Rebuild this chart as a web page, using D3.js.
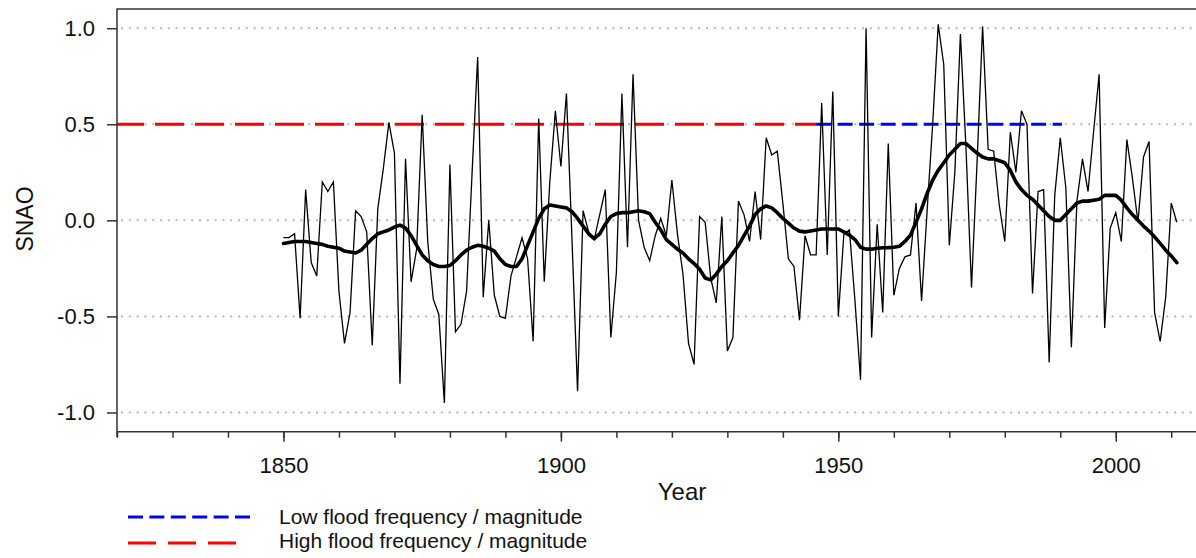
<!DOCTYPE html>
<html>
<head>
<meta charset="utf-8">
<script src="https://cdn.jsdelivr.net/npm/d3@7"></script>
<style>
  html, body { margin: 0; padding: 0; background: #fff; }
  svg { display: block; font-family: "Liberation Sans", Arial, sans-serif; }
</style>
</head>
<body>
<svg id="chart" width="1196" height="558"></svg>
<script>
// ---------------- data ----------------
const startYear = 1850;
const snaoAnnual = [
  -0.09, -0.09, -0.07, -0.51, 0.16, -0.22, -0.29, 0.20, 0.15, 0.20,
  -0.37, -0.64, -0.48, 0.05, 0.02, -0.06, -0.65, 0.06, 0.27, 0.51,
  0.35, -0.85, 0.32, -0.32, -0.15, 0.55, -0.11, -0.41, -0.49, -0.95,
  0.29, -0.58, -0.54, -0.37, 0.25, 0.85, -0.40, 0.00, -0.39, -0.50,
  -0.51, -0.29, -0.19, -0.09, -0.20, -0.63, 0.53, -0.32, 0.20, 0.57,
  0.28, 0.66, -0.10, -0.89, 0.05, -0.06, -0.10, 0.03, 0.16, -0.61,
  -0.27, 0.66, -0.14, 0.76, 0.00, -0.14, -0.21, -0.08, 0.01, -0.08,
  0.21, -0.07, -0.28, -0.64, -0.75, 0.02, -0.01, -0.30, -0.43, 0.02,
  -0.68, -0.61, 0.10, 0.03, -0.11, 0.15, -0.10, 0.43, 0.34, 0.36,
  0.09, -0.20, -0.24, -0.52, -0.08, -0.18, -0.18, 0.61, -0.18, 0.67,
  -0.50, -0.07, -0.05, -0.42, -0.83, 1.00, -0.61, -0.02, -0.48, 0.40,
  -0.39, -0.25, -0.19, -0.18, 0.09, -0.42, 0.05, 0.50, 1.02, 0.81,
  -0.13, 0.25, 0.97, 0.38, -0.35, 0.30, 1.01, 0.37, 0.36, 0.08,
  -0.11, 0.46, 0.25, 0.57, 0.50, -0.38, 0.15, 0.16, -0.74, 0.13,
  0.43, 0.17, -0.66, 0.10, 0.32, 0.15, 0.46, 0.76, -0.56, -0.04,
  0.04, -0.11, 0.42, 0.22, -0.01, 0.33, 0.41, -0.48, -0.63, -0.40,
  0.09, -0.01
];
const snaoSmooth = [
  -0.12, -0.115, -0.11, -0.11, -0.11, -0.115, -0.12, -0.125, -0.135, -0.14,
  -0.145, -0.16, -0.165, -0.17, -0.155, -0.125, -0.095, -0.07, -0.06, -0.05,
  -0.035, -0.025, -0.04, -0.08, -0.13, -0.18, -0.21, -0.23, -0.24, -0.24,
  -0.235, -0.21, -0.18, -0.155, -0.14, -0.13, -0.135, -0.145, -0.16, -0.20,
  -0.23, -0.24, -0.24, -0.20, -0.13, -0.06, 0.01, 0.06, 0.08, 0.075,
  0.07, 0.065, 0.045, 0.01, -0.03, -0.07, -0.095, -0.07, -0.02, 0.02,
  0.035, 0.04, 0.04, 0.045, 0.05, 0.045, 0.035, -0.01, -0.05, -0.10,
  -0.125, -0.15, -0.17, -0.20, -0.225, -0.255, -0.30, -0.31, -0.28, -0.24,
  -0.21, -0.17, -0.13, -0.08, -0.03, 0.03, 0.06, 0.075, 0.065, 0.04,
  0.01, -0.015, -0.04, -0.056, -0.06, -0.055, -0.05, -0.045, -0.045, -0.045,
  -0.045, -0.06, -0.077, -0.10, -0.14, -0.15, -0.15, -0.145, -0.143, -0.142,
  -0.14, -0.135, -0.11, -0.077, -0.01, 0.06, 0.14, 0.21, 0.26, 0.30,
  0.34, 0.37, 0.40, 0.40, 0.375, 0.35, 0.33, 0.32, 0.32, 0.31,
  0.30, 0.26, 0.20, 0.16, 0.13, 0.11, 0.08, 0.05, 0.02, 0.0,
  0.0, 0.03, 0.06, 0.09, 0.10, 0.10, 0.105, 0.11, 0.13, 0.13,
  0.13, 0.105, 0.065, 0.03, 0.0, -0.03, -0.056, -0.086, -0.12, -0.155,
  -0.185, -0.22
];
const years = d3.range(startYear, startYear + snaoAnnual.length);

// flood periods drawn at SNAO = 0.5
const highFloodPeriod = [1820, 1946];
const lowFloodPeriod = [1946, 1990.3];
const periodLevel = 0.5;

const yTickValues = [-1.0, -0.5, 0.0, 0.5, 1.0];
const xMajorTicks = [1850, 1900, 1950, 2000];
const xMinorTicks = d3.range(1820, 2011, 10);
const legendLabels = ["Low flood frequency / magnitude", "High flood frequency / magnitude"];

// ---------------- layout ----------------
const svg = d3.select("#chart");
const pL = 117, pR = 1199, pT = 9, pB = 431.7;
const x = d3.scaleLinear().domain([1820, 2015]).range([pL, pR]);
const y = d3.scaleLinear().domain([-1.1, 1.1]).range([pB, pT]);

// grid lines (dotted)
svg.append("g").selectAll("line").data(yTickValues).join("line")
  .attr("x1", pL + 4).attr("x2", pR)
  .attr("y1", d => y(d)).attr("y2", d => y(d))
  .attr("stroke", "#b8b8b8").attr("stroke-width", 2)
  .attr("stroke-dasharray", "2,5.8");

// flood period lines
svg.append("line")
  .attr("x1", x(highFloodPeriod[0])).attr("x2", x(highFloodPeriod[1]))
  .attr("y1", y(periodLevel)).attr("y2", y(periodLevel))
  .attr("stroke", "#ff0000").attr("stroke-width", 3)
  .attr("stroke-dasharray", "29,11").attr("stroke-dashoffset", 2);
svg.append("line")
  .attr("x1", x(lowFloodPeriod[0])).attr("x2", x(lowFloodPeriod[1]))
  .attr("y1", y(periodLevel)).attr("y2", y(periodLevel))
  .attr("stroke", "#0000ff").attr("stroke-width", 3)
  .attr("stroke-dasharray", "15,6.5");

// annual series
const line = d3.line().x((d, i) => x(years[i])).y(d => y(d));
svg.append("path").datum(snaoAnnual)
  .attr("d", line).attr("fill", "none")
  .attr("stroke", "#000").attr("stroke-width", 1.3)
  .attr("stroke-linejoin", "miter");

// smoothed series
svg.append("path").datum(snaoSmooth)
  .attr("d", line).attr("fill", "none")
  .attr("stroke", "#000").attr("stroke-width", 3.6)
  .attr("stroke-linejoin", "round").attr("stroke-linecap", "round");

// frame
svg.append("path")
  .attr("d", `M${pL},437 L${pL},${pT} L${pR},${pT}`)
  .attr("fill", "none").attr("stroke", "#333").attr("stroke-width", 1.5);
svg.append("line")
  .attr("x1", pL).attr("x2", pR).attr("y1", pB).attr("y2", pB)
  .attr("stroke", "#333").attr("stroke-width", 1.5);

// y axis
const yAxis = svg.append("g").attr("transform", `translate(${pL},0)`)
  .call(d3.axisLeft(y).tickValues(yTickValues).tickSize(10).tickPadding(12)
    .tickFormat(d => d3.format(".1f")(d).replace("\u2212", "-")));
yAxis.select(".domain").remove();
yAxis.selectAll("line").attr("stroke", "#333").attr("stroke-width", 1.5);
yAxis.selectAll("text").attr("font-size", 22).attr("fill", "#111")
  .attr("font-family", "Liberation Sans, Arial, sans-serif");

// x axis minor
const xMinor = svg.append("g").attr("transform", `translate(0,${pB})`)
  .call(d3.axisBottom(x).tickValues(xMinorTicks).tickSize(6).tickFormat(""));
xMinor.select(".domain").remove();
xMinor.selectAll("line").attr("stroke", "#333").attr("stroke-width", 1.5);

// x axis major
const xMajor = svg.append("g").attr("transform", `translate(0,${pB})`)
  .call(d3.axisBottom(x).tickValues(xMajorTicks).tickSize(10).tickPadding(16)
    .tickFormat(d3.format("d")));
xMajor.select(".domain").remove();
xMajor.selectAll("line").attr("stroke", "#333").attr("stroke-width", 1.5);
xMajor.selectAll("text").attr("font-size", 22).attr("fill", "#111")
  .attr("font-family", "Liberation Sans, Arial, sans-serif");

// axis titles
svg.append("text").attr("x", 682).attr("y", 500)
  .attr("text-anchor", "middle").attr("font-size", 24).attr("fill", "#111")
  .text("Year");
svg.append("text").attr("transform", "translate(33,219) rotate(-90)")
  .attr("text-anchor", "middle").attr("font-size", 23).attr("fill", "#111")
  .text("SNAO");

// legend
const legend = svg.append("g");
legend.append("line").attr("x1", 128).attr("x2", 250).attr("y1", 517).attr("y2", 517)
  .attr("stroke", "#0000ff").attr("stroke-width", 3).attr("stroke-dasharray", "15,6.4");
legend.append("line").attr("x1", 128).attr("x2", 236).attr("y1", 543).attr("y2", 543)
  .attr("stroke", "#ff0000").attr("stroke-width", 3).attr("stroke-dasharray", "28,12");
legend.selectAll("text.lg").data(legendLabels).join("text")
  .attr("class", "lg")
  .attr("x", 279).attr("y", (d, i) => 524 + i * 24)
  .attr("font-size", 21).attr("fill", "#111")
  .text(d => d);
</script>
</body>
</html>
